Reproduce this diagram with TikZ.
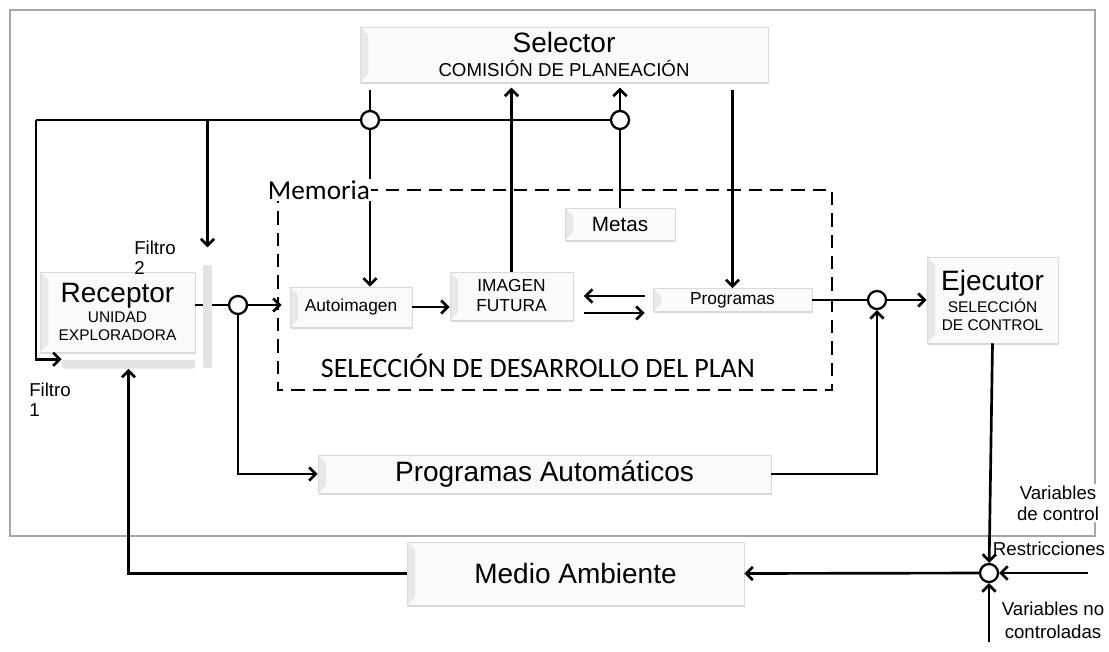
\documentclass[tikz,border=0pt]{standalone}
\usepackage{fontspec}
\setmainfont{Liberation Sans}
\newfontfamily\calib{Carlito}
\usepackage{tikz}
\usetikzlibrary{arrows.meta}
\usetikzlibrary{shadows}
\usetikzlibrary{calc}
\newdimen\pxu
\pxu=0.75pt
\tikzstyle{bloque} = [
    rectangle,
    draw=gray!30,
    fill=white!96!gray,
    inner sep=0pt,
    align=center,
    drop shadow={shadow xshift=1pt, shadow yshift=-1.2pt, opacity=0.3},
    path picture={\fill[gray!18] (path picture bounding box.north west)
        -- ([xshift=6pt,yshift=-6pt]path picture bounding box.north west)
        -- ([xshift=6pt,yshift=6pt]path picture bounding box.south west)
        -- (path picture bounding box.south west) -- cycle;}
]
\tikzstyle{filtro} = [
    rectangle,
    rounded corners=1pt,
    fill=gray!22,
    inner sep=0pt
]
\tikzstyle{nodo}  = [
    circle,
    draw=black,
    line width=1.7pt,
    fill=white,
    inner sep=0pt,
    minimum size=18\pxu
]
\tikzstyle{linea} = [draw, line width=2pt]
\tikzstyle{flujo} = [
    draw,
    line width=2pt,
    -{Straight Barb[length=5pt,width=10pt]}
]
\tikzstyle{etiq}  = [inner sep=1pt, fill=white, align=left]
\newcommand{\grande}{\fontsize{21}{24}\selectfont}
\newcommand{\chica}{\fontsize{11.6}{13.5}\selectfont}
\newcommand{\media}{\fontsize{13}{15}\selectfont}

\begin{document}
\begin{tikzpicture}[x=0.75pt, y=-0.75pt]
\useasboundingbox (0,0) rectangle (1109,652);

\draw[gray!70, line width=0.8pt] (10,10) rectangle (1095,536);
\draw[line width=1.9pt, dash pattern=on 10pt off 6pt] (278,190) rectangle (832,390);

\node[bloque, minimum width=408\pxu, minimum height=55\pxu,
      font=\fontsize{14}{16}\selectfont] (sel) at (564,54.5)
{{\grande Selector}\\[2pt]COMISIÓN DE PLANEACIÓN};

\node[bloque, minimum width=155\pxu, minimum height=80\pxu, font=\chica] (rec) at (117.5,312)
{{\grande Receptor}\\[1pt]UNIDAD\\EXPLORADORA};

\node[filtro, minimum width=133\pxu, minimum height=9\pxu] (filtA) at (128.5,364) {};
\node[filtro, minimum width=9\pxu, minimum height=103\pxu] (filtB) at (207.5,316.5) {};

\node[bloque, minimum width=122\pxu, minimum height=40\pxu, font=\media] (auto) at (351,307)
{Autoimagen};

\node[bloque, minimum width=123\pxu, minimum height=48\pxu, font=\media] (fut) at (511.5,296)
{IMAGEN\\FUTURA};

\node[bloque, minimum width=159\pxu, minimum height=23\pxu, font=\media] (prog) at (732.5,300)
{Programas};

\node[bloque, minimum width=110\pxu, minimum height=32\pxu,
      font=\fontsize{15.5}{18}\selectfont] (metas) at (620,224)
{Metas};

\node[bloque, minimum width=131\pxu, minimum height=86\pxu, font=\chica] (ejec) at (992.5,300)
{{\grande Ejecutor}\\[1pt]SELECCIÓN\\DE CONTROL};

\node[bloque, minimum width=453\pxu, minimum height=38\pxu, font=\grande] (pauto) at (544.5,474)
{Programas Automáticos};

\node[bloque, minimum width=337\pxu, minimum height=63\pxu, font=\grande] (medio) at (575.5,573.5)
{Medio Ambiente};

\node[nodo] (cA) at (370,120) {};
\node[nodo] (cB) at (620,120) {};
\node[nodo] (cC) at (238,305) {};
\node[nodo] (cD) at (877,300) {};
\node[nodo] (cE) at (989,573) {};

\coordinate (topL)   at (36,120);
\coordinate (restr)  at (1088,573);
\coordinate (noctrl) at (989,642);

% lazo superior
\draw[linea] (topL) -- (cA);
\draw[linea] (cA) -- (cB);
\draw[flujo] (topL) |- (filtA.north west);
\draw[flujo, shorten >=13pt] (topL -| filtB) -- (filtB.north);

% selector
\draw[linea, shorten <=6pt] (sel.south -| cA) -- (cA);
\draw[flujo] (cA) -- (cA |- auto.north);
\draw[flujo, shorten >=4pt] (fut.north) -- (sel.south -| fut.north);
\draw[linea] (metas.north) -- (cB);
\draw[flujo, shorten >=4pt] (cB) -- (cB |- sel.south);
\draw[flujo, shorten <=6pt] (prog.north |- sel.south) -- (prog.north);

% receptor
\draw[linea] (rec.east |- cC) -- (filtB.west |- cC);
\draw[linea] (filtB.east |- cC) -- (cC);
\draw[flujo, shorten >=6pt] (cC) -- (auto.west |- cC);
\draw[flujo] (cC) |- (pauto.west);
\draw[flujo] (auto.east) -- (fut.west |- auto.east);
\draw[flujo, shorten <=6pt, shorten >=8pt] ([yshift=3pt]prog.west) -- (fut.east);
\draw[flujo, shorten <=8pt, shorten >=6pt] ([yshift=-12.75pt]fut.east) -- ([yshift=-9.75pt]prog.west);

% ejecutor
\draw[linea] (prog.east) -- (cD);
\draw[flujo] (pauto.east) -| (cD);
\draw[flujo] (cD) -- (ejec.west |- cD);
\draw[flujo] (ejec.south) -- (cE);
\draw[flujo] (cE) -- (medio.east);
\draw[flujo] (medio.west) -| (filtA.south);
\draw[flujo] (restr) -- (cE);
\draw[flujo] (noctrl) -- (cE);

% textos
\node[etiq] (memo) at (319,190) {\calib\fontsize{20.5}{24}\selectfont Memoria};
\node[inner sep=0pt] (plan) at (538,366) {\calib\fontsize{21}{24}\selectfont SELECCIÓN DE DESARROLLO DEL PLAN};
\node[inner sep=0pt, align=left, font=\fontsize{14}{15}\selectfont] (filt2) at (155,258) {Filtro\\2};
\node[inner sep=0pt, align=left, font=\fontsize{14}{15}\selectfont] (filt1) at (50,400) {Filtro\\1};
\node[etiq, align=center, font=\fontsize{14}{16}\selectfont] (vctrl) at (1058,503) {Variables\\de control};
\node[inner sep=0pt, font=\fontsize{14}{16}\selectfont] (rtxt) at (1049,549) {Restricciones};
\node[inner sep=0pt, align=center, font=\fontsize{14}{17}\selectfont] (vnc) at (1053,620) {Variables no\\controladas};

\end{tikzpicture}
\end{document}
